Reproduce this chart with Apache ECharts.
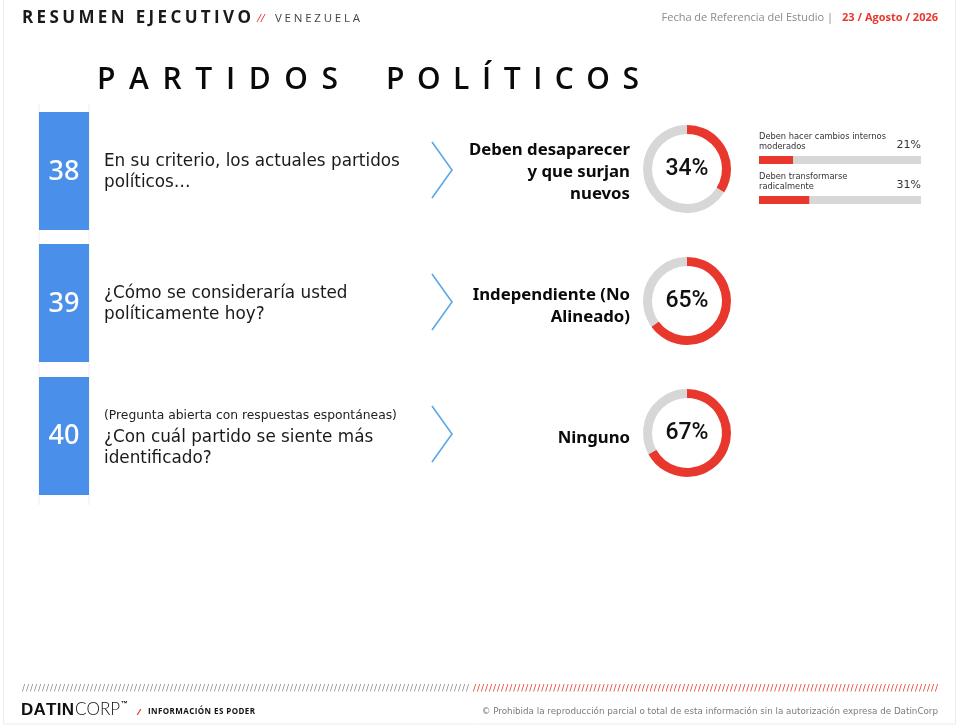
<!DOCTYPE html>
<html><head><meta charset="utf-8">
<script src="https://cdn.jsdelivr.net/npm/echarts@6/dist/echarts.min.js"></script>
<style>html,body{margin:0;padding:0;background:#fff}#c{width:960px;height:727px}</style>
</head><body><div id="c"></div>
<script>
// ---- data ----
const questionNumbers = ['38', '39', '40'];
const questionNotes = ['', '', '(Pregunta abierta con respuestas espontáneas)'];
const questions = [
  ['En su criterio, los actuales partidos', 'políticos…'],
  ['¿Cómo se consideraría usted', 'políticamente hoy?'],
  ['¿Con cuál partido se siente más', 'identificado?']
];
const answers = [
  ['Deben desaparecer', 'y que surjan', 'nuevos'],
  ['Independiente (No', 'Alineado)'],
  ['Ninguno']
];
const answerPct = [34, 65, 67];
const subLabels = [
  ['Deben hacer cambios internos', 'moderados'],
  ['Deben transformarse', 'radicalmente']
];
const subPct = [21, 31];

// ---- style / layout ----
const RED = '#E8382D', GRAY = '#D7D7D7', BLUE = '#4A8FEA', CHEV = '#5AA8EA';
const rowCenters = [171, 303, 435];
const rowTops = [112, 244, 377];
const BODY = '"DejaVu Sans"';
const ANS = '"Noto Sans"';

const mctx = document.createElement('canvas').getContext('2d');
function fit(text, weight, family, targetW) {
  mctx.font = weight + ' 100px ' + family;
  return +(100 * targetW / mctx.measureText(text).width).toFixed(2);
}
function spaced(str, x0, x1, y, font, color) {
  mctx.font = font;
  const chars = [...str];
  const ws = chars.map(ch => mctx.measureText(ch).width);
  const total = ws.reduce((a, b) => a + b, 0);
  const sp = chars.length > 1 ? (x1 - x0 - total) / (chars.length - 1) : 0;
  let x = x0; const out = [];
  chars.forEach((ch, i) => {
    if (ch !== ' ') out.push({ type: 'text', x: x, y: y, silent: true,
      style: { text: ch, font: font, fill: color, textAlign: 'left', textVerticalAlign: 'middle' } });
    x += ws[i] + sp;
  });
  return out;
}
function txt(s, x, y, font, color, align) {
  return { type: 'text', x: x, y: y, silent: true,
    style: { text: s, font: font, fill: color, textAlign: align || 'left', textVerticalAlign: 'middle' } };
}

const qSize = fit(questions[0][0], 'normal', BODY, 296);
const aSize = fit(answers[0][0], 'bold', ANS, 161);
const nSize = fit(questionNotes[2], 'normal', BODY, 293);
const sSize = fit(subLabels[0][0], 'normal', BODY, 127);
const cSize = fit('© Prohibida la reproducción parcial o total de esta información sin la autorización expresa de DatinCorp', 'normal', BODY, 457);

const g = [];
// card border
g.push({ type: 'rect', shape: { x: 3.5, y: -10, width: 952, height: 734 }, silent: true,
  style: { fill: 'none', stroke: '#ECECEC', lineWidth: 1 } });
// header
g.push(...spaced('RESUMEN EJECUTIVO', 22, 251, 18, 'bold 17px "Open Sans"', '#1a1a1a'));
g.push(txt('//', 257, 19, 'italic 11px "Open Sans"', RED));
g.push(...spaced('VENEZUELA', 275, 360, 19, '11.5px "Open Sans"', '#444'));
g.push(txt('Fecha de Referencia del Estudio |', 833, 18, '11px "Open Sans"', '#8a8a8a', 'right'));
g.push(txt('23 / Agosto / 2026', 938, 18, 'bold 11px "Open Sans"', RED, 'right'));
// title
g.push(...spaced('PARTIDOS', 97, 338, 80, '600 30px "Open Sans"', '#0a0a0a'));
g.push(...spaced('POLÍTICOS', 386, 639, 80, '600 30px "Open Sans"', '#0a0a0a'));
// faint guide lines
[39, 89].forEach(x => g.push({ type: 'line', shape: { x1: x, y1: 104, x2: x, y2: 505 }, silent: true,
  style: { stroke: '#EEEEEE', lineWidth: 1 } }));

questionNumbers.forEach((n, i) => {
  const c = rowCenters[i];
  g.push({ type: 'rect', shape: { x: 39, y: rowTops[i], width: 50, height: 118 }, silent: true, style: { fill: BLUE } });
  g.push(txt(n, 64, c + 1, '500 27px "Noto Sans"', '#fff', 'center'));
  const off = i === 2 ? 3 : -9;
  if (questionNotes[i]) g.push(txt(questionNotes[i], 104, c - 19, nSize + 'px ' + BODY, '#222'));
  questions[i].forEach((l, k) => g.push(txt(l, 104, c + off + k * 21, qSize + 'px ' + BODY, '#1a1a1a')));
  // chevron
  g.push({ type: 'polyline', shape: { points: [[432, c - 29], [452, c - 1], [432, c + 27]] }, silent: true,
    style: { stroke: CHEV, lineWidth: 1.6, fill: 'none' } });
  // answer label
  const a = answers[i];
  const mid = i === 0 ? c + 1 : c + 3;
  a.forEach((l, k) => g.push(txt(l, 630, mid + (k - (a.length - 1) / 2) * 22, 'bold ' + aSize + 'px ' + ANS, '#0a0a0a', 'right')));
});

// sub bar labels
const barCenters = [160, 200];
subLabels.forEach((ls, i) => {
  ls.forEach((l, k) => g.push(txt(l, 759, barCenters[i] - 23 + k * 10, sSize + 'px ' + BODY, '#333')));
  g.push(txt(subPct[i] + '%', 921, barCenters[i] - 15, '11px ' + BODY, '#333', 'right'));
});

// footer
g.push(...spaced('/'.repeat(112), 22, 469, 689, '9px "DejaVu Sans"', '#8a8a8a'));
g.push(...spaced('/'.repeat(116), 473, 938, 689, '9px "DejaVu Sans"', RED));
g.push(...spaced('DATIN', 21, 74, 710, 'bold 17px "Liberation Sans"', '#111'));
g.push(...spaced('CORP', 75, 120, 710, '300 17px "Lato"', '#111'));
g.push(txt('™', 121, 704, 'bold 7px "Liberation Sans"', '#111'));
g.push(txt('/', 137, 712, 'italic bold 9px "Open Sans"', RED));
g.push(...spaced('INFORMACIÓN ES PODER', 148, 255, 712, 'bold 8px "Open Sans"', '#111'));
g.push(txt('© Prohibida la reproducción parcial o total de esta información sin la autorización expresa de DatinCorp', 938, 712, cSize + 'px ' + BODY, '#7a7a7a', 'right'));

const chart = echarts.init(document.getElementById('c'), null, { renderer: 'canvas' });
const series = answerPct.map((p, i) => ({
  type: 'pie', center: [687, rowCenters[i] - 2], radius: [35, 44], startAngle: 90, clockwise: true,
  silent: true, emphasis: { disabled: true }, labelLine: { show: false },
  label: { show: false },
  data: [
    { value: p, name: answers[i].join(' '), itemStyle: { color: RED },
      label: { show: true, position: 'center', formatter: '{c}%', fontSize: 23, fontWeight: 500, fontFamily: 'Roboto', color: '#111' } },
    { value: 100 - p, name: 'resto', itemStyle: { color: GRAY } }
  ]
}));
series.push({
  type: 'bar', data: subPct, barWidth: 8, silent: true,
  itemStyle: { color: RED }, showBackground: true, backgroundStyle: { color: GRAY }
});
chart.setOption({
  animation: false,
  grid: { left: 759, top: 140, width: 162, height: 80 },
  xAxis: { type: 'value', min: 0, max: 100, show: false },
  yAxis: { type: 'category', data: subLabels.map(l => l.join(' ')), inverse: true, show: false },
  series: series,
  graphic: g
});
</script></body></html>
